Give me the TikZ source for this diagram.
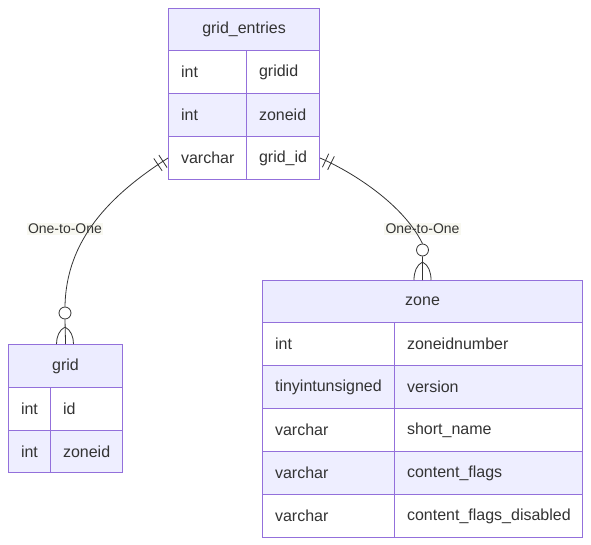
\documentclass[tikz,border=0pt]{standalone}
\usepackage{fontspec}
\setmainfont{Liberation Sans}
\usetikzlibrary{decorations.markings}
\definecolor{boxc}{HTML}{9370DB}
\definecolor{hdrf}{HTML}{ECECFF}
\definecolor{rowf}{HTML}{EEEEFF}
\definecolor{txt}{HTML}{333333}
\definecolor{lblf}{HTML}{F4F4E8}
\tikzset{
  base/.style={draw=boxc, line width=1.1pt, anchor=north west, inner ysep=0pt, text=txt, font=\fontsize{16}{19}\selectfont},
  hdr/.style={base, fill=hdrf, inner xsep=0pt, align=center},
  cell/.style={base, inner xsep=12.5pt, align=left, minimum height=43pt},
  wrow/.style={cell, fill=white},
  srow/.style={cell, fill=rowf},
  elabel/.style={fill=lblf, fill opacity=0.6, text opacity=1, text=txt, inner sep=1.5pt, font=\fontsize{14}{16}\selectfont},
  edge/.style={draw=txt, line width=0.8pt},
  onebars/.style={postaction={decorate}, decoration={markings,
     mark=at position 6pt with {\draw[txt, line width=0.8pt] (0pt,-7.5pt) -- (0pt,7.5pt);},
     mark=at position 12pt with {\draw[txt, line width=0.8pt] (0pt,-7.5pt) -- (0pt,7.5pt);}}},
  zring/.style={circle, draw=txt, fill=white, line width=0.8pt, minimum size=12pt, inner sep=0pt}
}
\begin{document}
\begin{tikzpicture}[x=1pt, y=-1pt]
\useasboundingbox (0,0) rectangle (591,545);
% grid_entries
\node[hdr, minimum width=151pt, minimum height=42pt] (ge) at (168,8) {grid\_entries};
\node[wrow, text width=53pt] (ge1a) at (168,50) {int};
\node[wrow, text width=48pt] (ge1b) at (246,50) {gridid};
\node[srow, text width=53pt] (ge2a) at (168,93) {int};
\node[srow, text width=48pt] (ge2b) at (246,93) {zoneid};
\node[wrow, text width=53pt] (ge3a) at (168,136) {varchar};
\node[wrow, text width=48pt] (ge3b) at (246,136) {grid\_id};
% grid
\node[hdr, minimum width=114pt, minimum height=43pt] (gh) at (8,344) {grid};
\node[wrow, text width=17pt, minimum height=42.5pt] (g1a) at (8,387) {int};
\node[wrow, text width=47pt, minimum height=42.5pt] (g1b) at (50,387) {id};
\node[srow, text width=17pt, minimum height=42.5pt] (g2a) at (8,429.5) {int};
\node[srow, text width=47pt, minimum height=42.5pt] (g2b) at (50,429.5) {zoneid};
% zone
\node[hdr, minimum width=320pt, minimum height=42pt] (zh) at (262,280) {zone};
\node[wrow, text width=107pt] (z1a) at (262,322) {int};
\node[wrow, text width=163pt] (z1b) at (394,322) {zoneidnumber};
\node[srow, text width=107pt] (z2a) at (262,365) {tinyintunsigned};
\node[srow, text width=163pt] (z2b) at (394,365) {version};
\node[wrow, text width=107pt] (z3a) at (262,408) {varchar};
\node[wrow, text width=163pt] (z3b) at (394,408) {short\_name};
\node[srow, text width=107pt] (z4a) at (262,451) {varchar};
\node[srow, text width=163pt] (z4b) at (394,451) {content\_flags};
\node[wrow, text width=107pt] (z5a) at (262,494) {varchar};
\node[wrow, text width=163pt] (z5b) at (394,494) {content\_flags\_disabled};
% labels
\node[elabel] (l1) at (65,229) {One-to-One};
\node[elabel] (l2) at (422.5,229) {One-to-One};
% rings
\node[zring] (r1) at (65,313) {};
\node[zring] (r2) at (422.5,250) {};
\coordinate (a1) at (65,327);
\coordinate (a2) at (422.5,262);
% edges
\draw[edge, onebars] (ge3a.west) .. controls (110,195) and (66,240) .. (r1.north);
\draw[edge, onebars] (ge3b.east) .. controls (348,170) and (402,202) .. (r2.north);
\draw[edge] (r1.south) -- (gh.north);
\draw[edge] (r2.south) -- (zh.north);
\draw[edge] (a1) .. controls (59,330) and (56.5,337) .. (56.5,344);
\draw[edge] (a1) .. controls (71,330) and (73.5,337) .. (73.5,344);
\draw[edge] (a2) .. controls (416.5,265) and (414,272) .. (414,280);
\draw[edge] (a2) .. controls (428.5,265) and (431,272) .. (431,280);
\end{tikzpicture}
\end{document}
